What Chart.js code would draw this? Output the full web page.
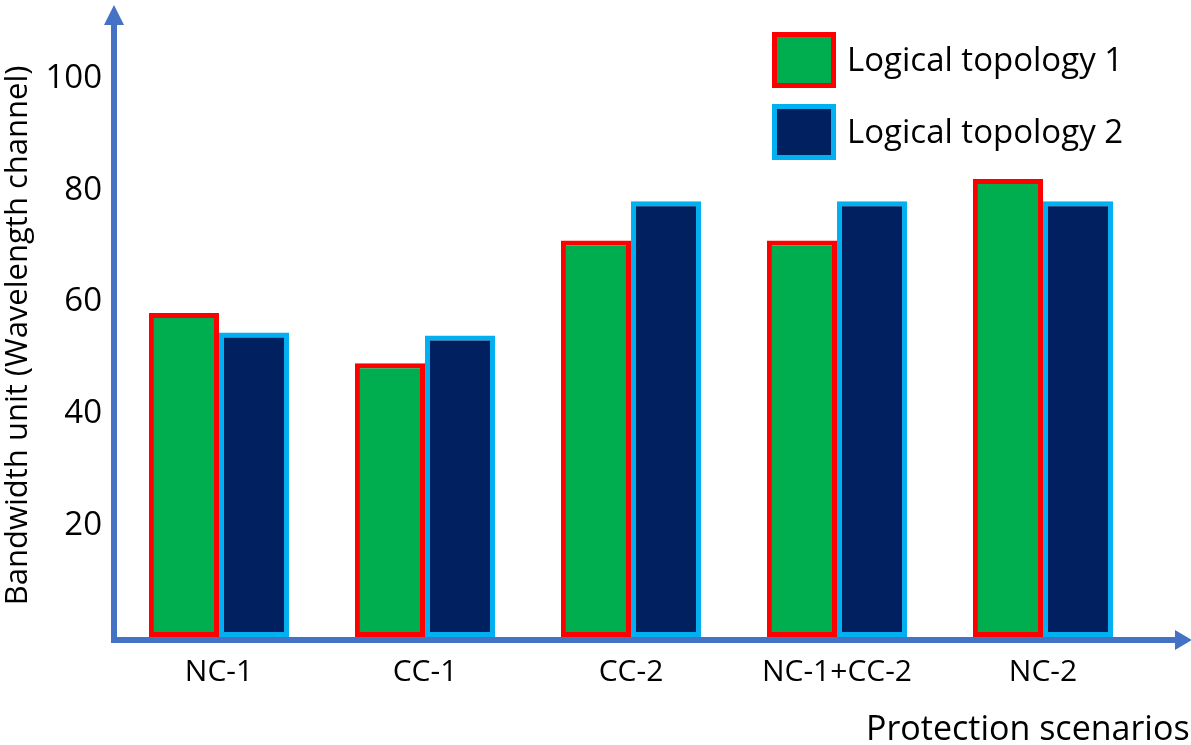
<!DOCTYPE html>
<html>
<head>
<meta charset="utf-8">
<script src="https://cdn.jsdelivr.net/npm/chart.js@4"></script>
<style>
  html, body { margin: 0; padding: 0; background: #fff; }
  #wrap { width: 1191px; height: 745px; }
</style>
</head>
<body>
<div id="wrap"><canvas id="chart"></canvas></div>
<script>
// data
const scenarios = ['NC-1', 'CC-1', 'CC-2', 'NC-1+CC-2', 'NC-2'];
const topology1 = [58, 49, 71, 71, 82];
const topology2 = [54.5, 54, 78, 78, 78];
const seriesNames = ['Logical topology 1', 'Logical topology 2'];
const yTicks = [20, 40, 60, 80, 100];

const FONT = '"Open Sans", "Noto Sans", sans-serif';
const axisBlue = '#4472C4';

// axes with arrow heads, legend and x title drawn by hand
const decorPlugin = {
  id: 'decor',
  afterDraw(chart) {
    const ctx = chart.ctx;
    const a = chart.chartArea;
    const xa = a.left - 2, ya = a.bottom + 3;
    ctx.save();
    ctx.strokeStyle = axisBlue;
    ctx.fillStyle = axisBlue;
    ctx.lineWidth = 6;
    ctx.beginPath();
    ctx.moveTo(xa, ya + 3);
    ctx.lineTo(xa, 22);
    ctx.moveTo(xa - 3, ya);
    ctx.lineTo(1178, ya);
    ctx.stroke();
    // arrow heads
    ctx.beginPath();
    ctx.moveTo(xa, 5);
    ctx.lineTo(xa - 10, 25);
    ctx.lineTo(xa + 10, 25);
    ctx.closePath();
    ctx.fill();
    ctx.beginPath();
    ctx.moveTo(1192, ya);
    ctx.lineTo(1175, ya - 10);
    ctx.lineTo(1175, ya + 10);
    ctx.closePath();
    ctx.fill();

    // legend
    const ds = chart.data.datasets;
    const lx = a.right - 374;
    ds.forEach((d, i) => {
      const top = 32 + i * 72;
      ctx.fillStyle = d.borderColor;
      ctx.fillRect(lx, top, 64, 56);
      ctx.fillStyle = d.backgroundColor;
      ctx.fillRect(lx + 5, top + 5, 54, 46);
      ctx.fillStyle = '#000';
      ctx.font = '33px ' + FONT;
      ctx.textBaseline = 'middle';
      ctx.textAlign = 'left';
      ctx.fillText(d.label, lx + 75, top + 30);
    });

    // x axis title, sits at the bottom right and runs off the edge
    ctx.fillStyle = '#000';
    ctx.font = '34px ' + FONT;
    ctx.textBaseline = 'alphabetic';
    ctx.textAlign = 'left';
    ctx.fillText('Protection scenarios', 866, 740);
    ctx.restore();
  }
};

new Chart(document.getElementById('chart'), {
  type: 'bar',
  data: {
    labels: scenarios,
    datasets: [
      {
        label: seriesNames[0],
        data: topology1,
        backgroundColor: '#00AD4F',
        borderColor: '#FF0000',
        borderWidth: 5,
        borderSkipped: false
      },
      {
        label: seriesNames[1],
        data: topology2,
        backgroundColor: '#002060',
        borderColor: '#00B0F0',
        borderWidth: 5,
        borderSkipped: false
      }
    ]
  },
  options: {
    responsive: true,
    maintainAspectRatio: false,
    animation: false,
    categoryPercentage: 0.68,
    barPercentage: 1.0,
    layout: { padding: { top: 20, right: 45, bottom: 0, left: 0 } },
    plugins: {
      legend: { display: false },
      tooltip: { enabled: false }
    },
    scales: {
      x: {
        grid: { display: false, drawTicks: false },
        border: { display: false },
        ticks: {
          color: '#000',
          font: { family: FONT, size: 30 },
          padding: 17,
          maxRotation: 0
        },
        afterFit(scale) { scale.height = 108; }
      },
      y: {
        min: 0,
        max: 108,
        grid: { display: false, drawTicks: false },
        border: { display: false },
        afterBuildTicks(scale) {
          scale.ticks = yTicks.map(v => ({ value: v }));
        },
        ticks: {
          color: '#000',
          font: { family: FONT, size: 33 },
          padding: 14
        },
        title: {
          display: true,
          text: 'Bandwidth unit (Wavelength channel)',
          color: '#000',
          font: { family: FONT, size: 31 },
          padding: { top: 0, bottom: 0 }
        },
        afterFit(scale) { scale.width = 116; }
      }
    }
  },
  plugins: [decorPlugin]
});
</script>
</body>
</html>
